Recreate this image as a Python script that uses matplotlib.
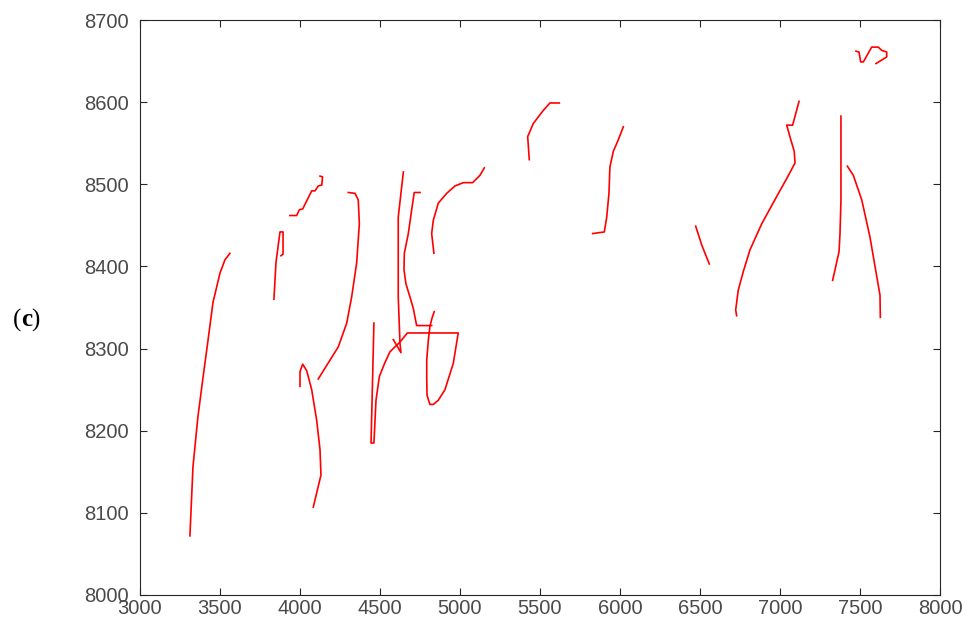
import matplotlib
matplotlib.use("Agg")
import matplotlib.pyplot as plt

# Each contour segment: x values and y values
seg1_x = [3312, 3331, 3362, 3394, 3425, 3456, 3500, 3531, 3562]
seg1_y = [8072, 8156, 8217, 8265, 8310, 8356, 8392, 8408, 8416]

seg2_x = [3837, 3850, 3875, 3894, 3894, 3881]
seg2_y = [8360, 8405, 8442, 8442, 8415, 8413]

seg3_x = [3937, 3979, 3996, 4017, 4073, 4094, 4114, 4136, 4141, 4125]
seg3_y = [8462, 8462, 8469, 8470, 8492, 8492, 8498, 8499, 8509, 8510]

seg4_x = [4114, 4239, 4292, 4323, 4354, 4371, 4364, 4344, 4302]
seg4_y = [8263, 8302, 8331, 8363, 8404, 8452, 8481, 8489, 8490]

seg5_x = [4000, 4000, 4017, 4042, 4073, 4104, 4125, 4131, 4083]
seg5_y = [8254, 8272, 8281, 8273, 8250, 8213, 8177, 8146, 8107]

seg6_x = [4462, 4444, 4462, 4475, 4496, 4531, 4562, 4625, 4671, 4989, 4958,
          4906, 4864, 4833, 4812, 4794, 4792, 4792, 4802, 4812, 4825, 4839]
seg6_y = [8331, 8185, 8185, 8237, 8266, 8283, 8296, 8308, 8319, 8319, 8282,
          8250, 8237, 8232, 8232, 8243, 8262, 8286, 8310, 8327, 8337, 8345]

seg7_x = [4646, 4614, 4614, 4625, 4631, 4583]
seg7_y = [8515, 8460, 8363, 8306, 8295, 8311]

seg8_x = [4750, 4714, 4698, 4677, 4652, 4650, 4662, 4687, 4708, 4729, 4823]
seg8_y = [8490, 8490, 8469, 8440, 8416, 8396, 8379, 8363, 8349, 8328, 8328]

seg9_x = [4837, 4823, 4833, 4864, 4917, 4969, 5021, 5079, 5125, 5152]
seg9_y = [8416, 8440, 8456, 8477, 8489, 8498, 8502, 8502, 8511, 8520]

seg10_x = [5433, 5423, 5458, 5521, 5562, 5621]
seg10_y = [8530, 8558, 8574, 8590, 8599, 8599]

seg11_x = [5829, 5902, 5917, 5931, 5937, 5958, 5989, 6021]
seg11_y = [8440, 8442, 8460, 8489, 8521, 8540, 8554, 8570]

seg12_x = [6473, 6511, 6558]
seg12_y = [8449, 8426, 8403]

seg13_x = [6729, 6723, 6739, 6771, 6812, 6886, 6979, 7042, 7094, 7089, 7062,
           7042, 7079, 7119]
seg13_y = [8340, 8347, 8371, 8394, 8420, 8452, 8485, 8507, 8526, 8540, 8558,
           8572, 8572, 8601]

seg14_x = [7381, 7381, 7375, 7369, 7329]
seg14_y = [8583, 8481, 8440, 8418, 8383]

seg15_x = [7421, 7458, 7511, 7562, 7625, 7627]
seg15_y = [8522, 8511, 8481, 8436, 8365, 8338]

seg16_x = [7475, 7494, 7504, 7521, 7573, 7614, 7636, 7667, 7667, 7600]
seg16_y = [8662, 8661, 8649, 8649, 8667, 8667, 8663, 8661, 8655, 8647]

segments = [
    (seg1_x, seg1_y), (seg2_x, seg2_y), (seg3_x, seg3_y), (seg4_x, seg4_y),
    (seg5_x, seg5_y), (seg6_x, seg6_y), (seg7_x, seg7_y), (seg8_x, seg8_y),
    (seg9_x, seg9_y), (seg10_x, seg10_y), (seg11_x, seg11_y),
    (seg12_x, seg12_y), (seg13_x, seg13_y), (seg14_x, seg14_y),
    (seg15_x, seg15_y), (seg16_x, seg16_y),
]

x_ticks = [3000, 3500, 4000, 4500, 5000, 5500, 6000, 6500, 7000, 7500, 8000]
y_ticks = [8000, 8100, 8200, 8300, 8400, 8500, 8600, 8700]

plt.rcParams['font.family'] = ['Liberation Sans', 'DejaVu Sans']

fig = plt.figure(figsize=(9.69, 6.30), dpi=100)
ax = fig.add_axes([140 / 969, 1 - 595 / 630, 800 / 969, 575 / 630])

for sx, sy in segments:
    ax.plot(sx, sy, color='#ff0000', linewidth=1.2)

ax.set_xlim(3000, 8000)
ax.set_ylim(8000, 8700)
ax.set_xticks(x_ticks)
ax.set_yticks(y_ticks)
ax.tick_params(axis='both', direction='in', length=5, width=0.8,
               top=True, right=True, labelsize=14.5, colors='#262626',
               labelcolor='#4a4a4a')
ax.tick_params(axis='y', pad=8)
ax.tick_params(axis='x', pad=3)
for sp in ax.spines.values():
    sp.set_color('#262626')
    sp.set_linewidth(0.8)

# panel label "(c)" with bold c
fig.text(21 / 969, 1 - 320 / 630, '(', fontsize=18, family='Liberation Serif',
         ha='right', va='center', color='black')
fig.text(21 / 969, 1 - 320 / 630, 'c', fontsize=18, family='Liberation Serif',
         fontweight='bold', ha='left', va='center', color='black')
fig.text(31 / 969, 1 - 320 / 630, ')', fontsize=18, family='Liberation Serif',
         ha='left', va='center', color='black')

fig.savefig('out.png', dpi=100)
